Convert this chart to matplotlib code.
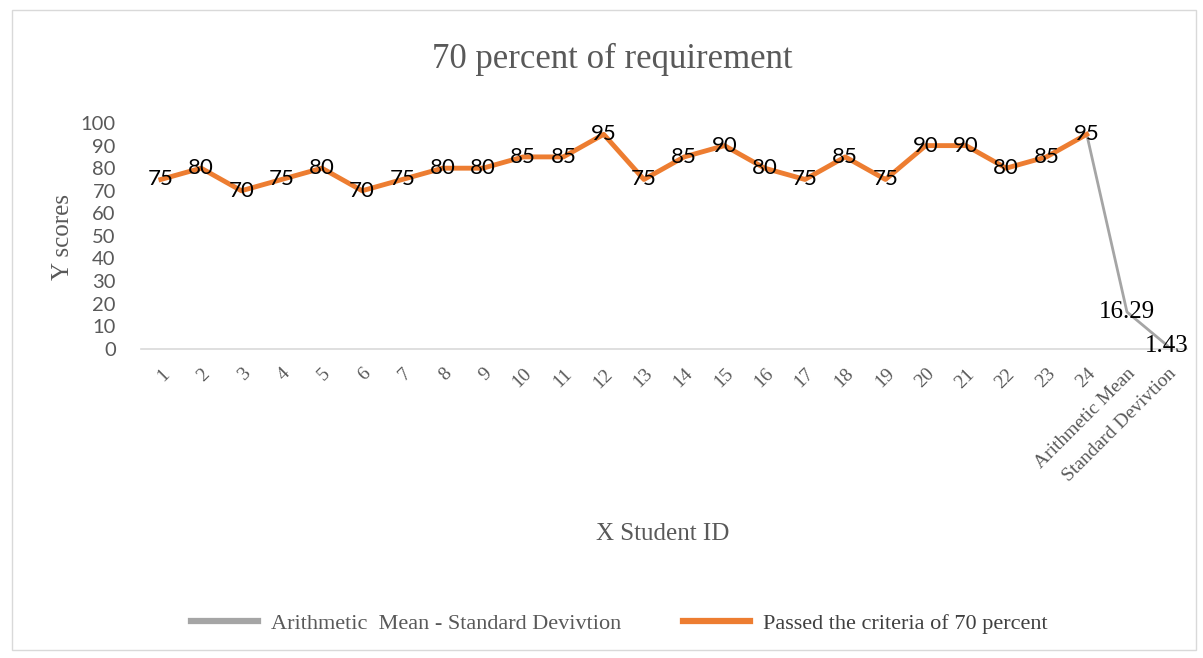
import matplotlib.pyplot as plt
from matplotlib.patches import Rectangle

# данные
categories = [str(i) for i in range(1, 25)] + ["Arithmetic Mean", "Standard Devivtion"]
scores = [75, 80, 70, 75, 80, 70, 75, 80, 80, 85, 85, 95,
          75, 85, 90, 80, 75, 85, 75, 90, 90, 80, 85, 95]
stat_labels = ["24", "Arithmetic Mean", "Standard Devivtion"]
stat_values = [95, 16.29, 1.43]

orange = "#ED7D31"
gray = "#A5A5A5"
text_gray = "#595959"

fig = plt.figure(figsize=(12.03, 6.58), dpi=100)
ax = fig.add_axes([0.117, 0.470, 0.870, 0.343])

pos = {c: i for i, c in enumerate(categories)}

# серая линия: среднее и отклонение
xs_stat = [pos[c] for c in stat_labels]
ax.plot(xs_stat, stat_values, color=gray, lw=2, zorder=2,
        label="Arithmetic  Mean - Standard Devivtion")
# оранжевая линия: баллы
xs = list(range(len(scores)))
ax.plot(xs, scores, color=orange, lw=3.5, zorder=3,
        label="Passed the criteria of 70 percent")

for x, y in zip(xs, scores):
    ax.text(x, y, str(y), ha="center", va="center", fontsize=16,
            family="Lato", color="black", zorder=4)
for x, y in zip(xs_stat[1:], stat_values[1:]):
    ax.text(x, y, f"{y:.2f}", ha="center", va="center", fontsize=18,
            family="Liberation Serif", color="black", zorder=4)

ax.set_xlim(-0.5, len(categories) - 0.5)
ax.set_ylim(0, 100)
ax.set_yticks(range(0, 101, 10))
ax.set_xticks(range(len(categories)))
ax.set_xticklabels(categories, rotation=45, ha="right", rotation_mode="anchor",
                   family="Liberation Serif", fontsize=14, color=text_gray)
for lab in ax.get_yticklabels():
    lab.set_family("Lato")
    lab.set_fontsize(14.5)
    lab.set_color(text_gray)
ax.tick_params(length=0)
ax.tick_params(axis="x", pad=12)
ax.tick_params(axis="y", pad=18)

for s in ["top", "right", "left"]:
    ax.spines[s].set_visible(False)
ax.spines["bottom"].set_color("#D9D9D9")
ax.spines["bottom"].set_linewidth(1.2)

fig.text(0.509, 0.910, "70 percent of requirement", ha="center", va="center",
         family="Liberation Serif", fontsize=25, color=text_gray)
fig.text(0.052, 0.64, "Y scores", rotation=90, ha="center", va="center",
         family="Liberation Serif", fontsize=18, color=text_gray)
fig.text(0.551, 0.188, "X Student ID", ha="center", va="center",
         family="Liberation Serif", fontsize=18, color=text_gray)

leg = fig.legend(loc="center", bbox_to_anchor=(0.515, 0.052), ncol=2, frameon=False,
                 prop={"family": "Liberation Serif", "size": 16},
                 handlelength=3.0, handletextpad=0.6, columnspacing=2.8)
leg.get_texts()[0].set_color(text_gray)
leg.get_texts()[1].set_color("#404040")
leg.get_lines()[0].set_linewidth(4.5)
leg.get_lines()[1].set_linewidth(4.5)

fig.patches.append(Rectangle((0.010, 0.012), 0.984, 0.973, transform=fig.transFigure,
                             fill=False, edgecolor="#D9D9D9", lw=1))

fig.savefig("out.png", dpi=100)
